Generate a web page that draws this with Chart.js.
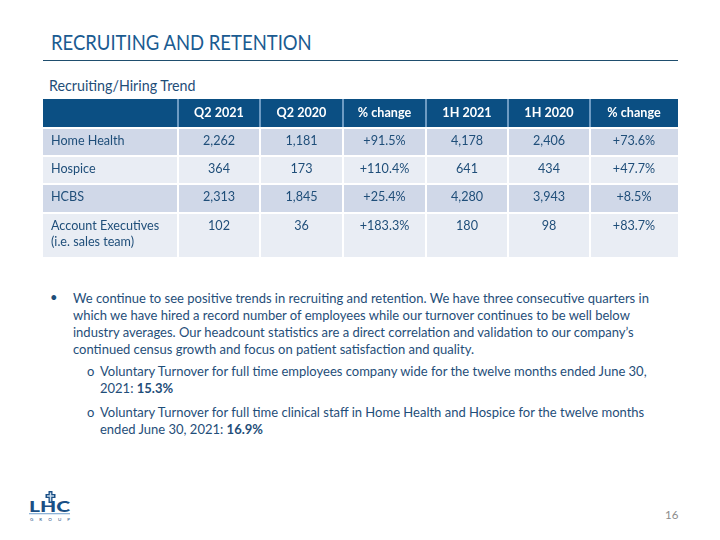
<!DOCTYPE html>
<html>
<head>
<meta charset="utf-8">
<script src="https://cdn.jsdelivr.net/npm/chart.js@4.4.1/dist/chart.umd.min.js"></script>
<style>
  html, body { margin:0; padding:0; background:#fff; }
  body { width:720px; height:540px; position:relative; overflow:hidden; font-family: Lato, "Open Sans", sans-serif; color:#1f4e79; }
  .title { position:absolute; left:51px; top:29px; font-size:21px; color:#1a5b91; transform:scaleX(0.88); transform-origin:left top; white-space:nowrap; }
  .rule { position:absolute; left:43px; top:60px; width:635px; height:0; border-top:1.5px solid #1f4e6e; }
  .subtitle { position:absolute; left:49px; top:76px; font-size:15px; color:#1f4e79; transform:scaleX(0.95); transform-origin:left top; white-space:nowrap; }
  #wrap { position:absolute; left:43px; top:99px; width:635px; height:158px; }
  .para { position:absolute; font-size:13px; line-height:17px; color:#1f4e79; white-space:nowrap; }
  .para b { color:#1f4e79; font-weight:700; }
  .mark { position:absolute; font-size:13px; color:#1f4e79; }
  .logo { position:absolute; left:20px; top:488px; width:60px; height:40px; }
  .pg { position:absolute; left:665px; top:508px; font-size:11.5px; color:#8c8c8c; }
</style>
</head>
<body>
<div class="title">RECRUITING AND RETENTION</div>
<div class="rule"></div>
<div class="subtitle">Recruiting/Hiring Trend</div>
<div id="wrap"><canvas id="c" width="635" height="158"></canvas></div>

<div class="mark" style="left:50px;top:289px;">•</div>
<div class="para" style="left:73px;top:289.5px;">We continue to see positive trends in recruiting and retention. We have three consecutive quarters in<br>which we have hired a record number of employees while our turnover continues to be well below<br>industry averages. Our headcount statistics are a direct correlation and validation to our company’s<br>continued census growth and focus on patient satisfaction and quality.</div>
<div class="para" style="left:87px;top:362.5px;">o</div>
<div class="para" style="left:100px;top:362.5px;">Voluntary Turnover for full time employees company wide for the twelve months ended June 30,<br>2021: <b>15.3%</b></div>
<div class="para" style="left:87px;top:403.5px;">o</div>
<div class="para" style="left:100px;top:403.5px;">Voluntary Turnover for full time clinical staff in Home Health and Hospice for the twelve months<br>ended June 30, 2021: <b>16.9%</b></div>

<svg class="logo" viewBox="0 0 60 40">
  <text x="9" y="24" font-family="Lato, sans-serif" font-weight="900" font-size="15" fill="#1a4f85" textLength="41" lengthAdjust="spacingAndGlyphs">LHC</text>
  <rect x="28.5" y="3" width="4" height="12" fill="#1a4f85"/>
  <rect x="25.5" y="6" width="10" height="4" fill="#1a4f85"/>
  <rect x="29.8" y="4.5" width="1.4" height="9" fill="#cfe0f0"/>
  <rect x="27" y="7.3" width="7" height="1.4" fill="#cfe0f0"/>
  <rect x="9" y="25" width="41" height="1.3" fill="#8fb4d8"/>
  <text x="10" y="32.5" font-family="Lato, sans-serif" font-size="4.5" fill="#1a4f85" textLength="40" lengthAdjust="spacing">GROUP</text>
</svg>
<div class="pg">16</div>

<script>
// ---- data ----
const columnHeaders = ['Q2 2021', 'Q2 2020', '% change', '1H 2021', '1H 2020', '% change'];
const rowLabels = [['Home Health'], ['Hospice'], ['HCBS'], ['Account Executives', '(i.e. sales team)']];
const q2_2021 = [2262, 364, 2313, 102];
const q2_2020 = [1181, 173, 1845, 36];
const q2Change = [91.5, 110.4, 25.4, 183.3];
const h1_2021 = [4178, 641, 4280, 180];
const h1_2020 = [2406, 434, 3943, 98];
const h1Change = [73.6, 47.7, 8.5, 83.7];

// ---- layout (sizes, not data) ----
const layout = {
  colWidths: [135, 82, 83, 83, 82, 82, 88],
  rowHeights: [29, 28, 28, 29, 44],
  textOffset: 12.5,
  lineGap: 16,
  headerBg: '#0b4f83',
  headerLine: '#8fb4d8',
  rowBg: ['#d0d8e8', '#e9edf4'],
  textColor: '#1f4e79',
  font: '12.6px Lato, "Open Sans", sans-serif',
  boldFont: 'bold 12.6px Lato, "Open Sans", sans-serif'
};
const colEdges = [0];
layout.colWidths.forEach(w => colEdges.push(colEdges[colEdges.length - 1] + w));
const rowEdges = [0];
layout.rowHeights.forEach(h => rowEdges.push(rowEdges[rowEdges.length - 1] + h));

const fmtNum = v => v.toLocaleString('en-US');
const fmtPct = v => '+' + v.toFixed(1) + '%';
const series = [
  { values: q2_2021, fmt: fmtNum },
  { values: q2_2020, fmt: fmtNum },
  { values: q2Change, fmt: fmtPct },
  { values: h1_2021, fmt: fmtNum },
  { values: h1_2020, fmt: fmtNum },
  { values: h1Change, fmt: fmtPct }
];

const datasets = series.map((s, ci) => ({
  label: columnHeaders[ci],
  data: s.values.map((v, ri) => ({
    x: (colEdges[ci + 1] + colEdges[ci + 2]) / 2,
    y: rowEdges[ri + 1] + layout.textOffset,
    v: v
  })),
  fmt: s.fmt,
  pointRadius: 0,
  pointHoverRadius: 0
}));

const tablePlugin = {
  id: 'table',
  beforeDatasetsDraw(chart) {
    const { ctx, scales: { x, y } } = chart;
    ctx.save();
    const nRows = rowEdges.length - 1;
    for (let r = 0; r < nRows; r++) {
      const y0 = y.getPixelForValue(rowEdges[r]);
      const y1 = y.getPixelForValue(rowEdges[r + 1]);
      for (let c = 0; c < colEdges.length - 1; c++) {
        const x0 = x.getPixelForValue(colEdges[c]);
        const x1 = x.getPixelForValue(colEdges[c + 1]);
        ctx.fillStyle = r === 0 ? layout.headerBg : layout.rowBg[(r - 1) % 2];
        ctx.fillRect(x0, y0, x1 - x0, y1 - y0);
      }
    }
    const yHead = y.getPixelForValue(rowEdges[1]);
    // grid lines: light blue in header, white in body
    ctx.lineWidth = 2;
    for (let c = 1; c < colEdges.length - 1; c++) {
      const px = Math.round(x.getPixelForValue(colEdges[c]));
      ctx.strokeStyle = '#ffffff';
      ctx.beginPath(); ctx.moveTo(px, yHead); ctx.lineTo(px, chart.height); ctx.stroke();
      ctx.strokeStyle = layout.headerLine;
      ctx.lineWidth = 1.5;
      ctx.beginPath(); ctx.moveTo(px, 0); ctx.lineTo(px, yHead); ctx.stroke();
      ctx.lineWidth = 2;
    }
    ctx.strokeStyle = '#ffffff';
    for (let r = 1; r < rowEdges.length - 1; r++) {
      const py = Math.round(y.getPixelForValue(rowEdges[r]));
      ctx.beginPath(); ctx.moveTo(0, py); ctx.lineTo(chart.width, py); ctx.stroke();
    }
    // header texts
    ctx.fillStyle = '#ffffff';
    ctx.font = layout.boldFont;
    ctx.textAlign = 'center';
    ctx.textBaseline = 'middle';
    columnHeaders.forEach((h, ci) => {
      const cx = x.getPixelForValue((colEdges[ci + 1] + colEdges[ci + 2]) / 2);
      ctx.fillText(h, cx, y.getPixelForValue(rowEdges[0] + layout.textOffset + 1));
    });
    // row labels
    ctx.fillStyle = layout.textColor;
    ctx.font = layout.font;
    ctx.textAlign = 'left';
    rowLabels.forEach((lines, ri) => {
      lines.forEach((t, li) => {
        ctx.fillText(t, x.getPixelForValue(colEdges[0]) + 8,
          y.getPixelForValue(rowEdges[ri + 1] + layout.textOffset + li * layout.lineGap));
      });
    });
    ctx.restore();
  },
  afterDatasetsDraw(chart) {
    const { ctx } = chart;
    ctx.save();
    ctx.fillStyle = layout.textColor;
    ctx.font = layout.font;
    ctx.textAlign = 'center';
    ctx.textBaseline = 'middle';
    chart.data.datasets.forEach((ds, di) => {
      const meta = chart.getDatasetMeta(di);
      meta.data.forEach((pt, i) => {
        ctx.fillText(ds.fmt(ds.data[i].v), pt.x, pt.y);
      });
    });
    ctx.restore();
  }
};

new Chart(document.getElementById('c'), {
  type: 'scatter',
  data: { datasets },
  options: {
    responsive: false,
    animation: false,
    events: [],
    layout: { padding: 0 },
    plugins: { legend: { display: false }, tooltip: { enabled: false } },
    scales: {
      x: { type: 'linear', display: false, min: 0, max: colEdges[colEdges.length - 1] },
      y: { type: 'linear', display: false, min: 0, max: rowEdges[rowEdges.length - 1], reverse: true }
    }
  },
  plugins: [tablePlugin]
});
</script>
</body>
</html>
